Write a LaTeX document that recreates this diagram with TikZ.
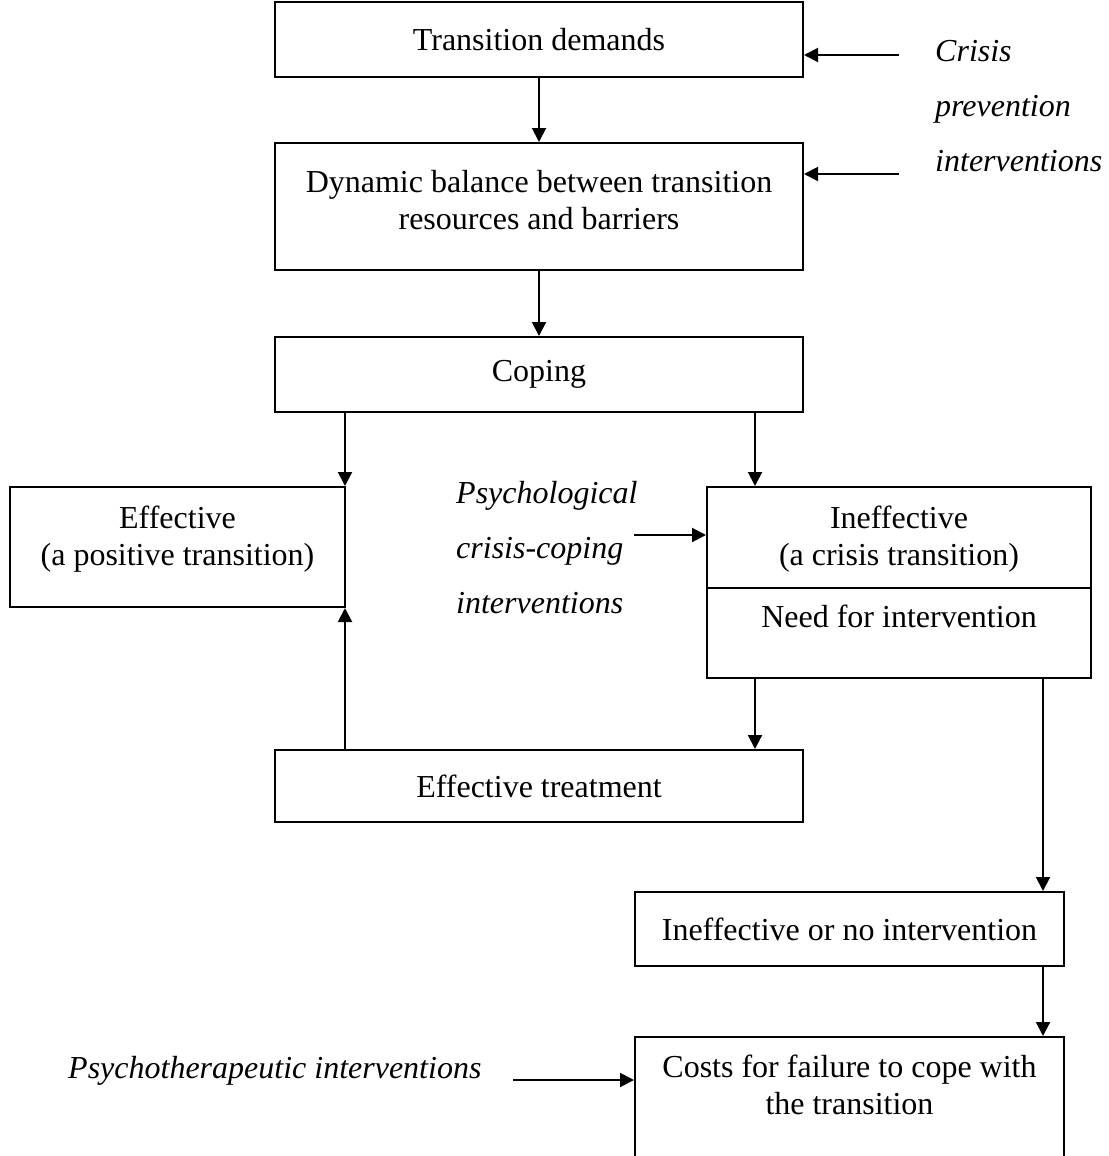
\documentclass[tikz,border=0pt]{standalone}
\usepackage{fontspec}
\setmainfont{Liberation Serif}
\usetikzlibrary{arrows.meta}
\tikzset{
  box/.style={draw, line width=2pt, inner sep=0pt, align=center, font=\fontsize{32}{37}\selectfont},
  txt/.style={inner sep=0pt, align=center, font=\fontsize{32}{37}\selectfont},
  itx/.style={inner sep=0pt, align=left, font=\fontsize{32}{55}\selectfont\itshape},
  arr/.style={line width=2pt, -{Triangle[length=14pt,width=14pt]}},
}
\begin{document}
\begin{tikzpicture}[x=1pt,y=-1pt]
\useasboundingbox (0,0) rectangle (1108,1156);
\clip (0,0) rectangle (1108,1156);
\fill[white] (0,0) rectangle (1108,1156);

% boxes
\node[box, minimum width=528pt, minimum height=75pt] (demands) at (539,39.5) {Transition demands};
\node[box, minimum width=528pt, minimum height=127pt] (balance) at (539,206.5) {};
\node[txt] (balancetxt) at (539,200) {Dynamic balance between transition\\resources and barriers};
\node[box, minimum width=528pt, minimum height=75pt] (coping) at (539,374.5) {Coping};
\node[box, minimum width=335pt, minimum height=120pt] (effective) at (177.5,547) {};
\node[txt] (effectivetxt) at (177.5,539) {Effective\\(a positive transition)};
\node[box, minimum width=384pt, minimum height=101pt] (ineff) at (899,537.5) {};
\node[txt] (inefftxt) at (899,539) {Ineffective\\(a crisis transition)};
\node[box, minimum width=384pt, minimum height=90pt] (need) at (899,633) {};
\node[txt] (needtxt) at (899,616) {Need for intervention};
\node[box, minimum width=528pt, minimum height=72pt] (treat) at (539,786) {Effective treatment};
\node[box, minimum width=429pt, minimum height=74pt] (noint) at (849.5,929) {Ineffective or no intervention};
\node[box, minimum width=429pt, minimum height=140pt] (costs) at (849.5,1107) {};
\node[txt] (coststxt) at (849.5,1085) {Costs for failure to cope with\\the transition};

% italic labels
\node[itx, anchor=north west] (crisis) at (935,40) {Crisis\\prevention\\interventions};
\node[itx, anchor=north west] (psych) at (456,481) {Psychological\\crisis-coping\\interventions};
\node[itx, anchor=base west] (psychother) at (68,1078) {Psychotherapeutic interventions};

% helper coordinates
\coordinate (xa) at (755,0);
\coordinate (xb) at (345,0);
\coordinate (xc) at (1043,0);
\coordinate (c1) at (899,55);
\coordinate (c2) at (899,174);
\coordinate (p1) at (634,535);
\coordinate (p2) at (513,1080);

% connectors
\draw[arr] (demands.south) -- (balance.north);
\draw[arr] (balance.south) -- (coping.north);
\draw[arr] (coping.south -| xb) -- (effective.north -| xb);
\draw[arr] (coping.south -| xa) -- (ineff.north -| xa);
\draw[arr] (need.south -| xa) -- (treat.north -| xa);
\draw[arr] (treat.north -| xb) -- (effective.south -| xb);
\draw[arr] (need.south -| xc) -- (noint.north -| xc);
\draw[arr] (noint.south -| xc) -- (costs.north -| xc);
\draw[arr] (c1) -- (c1 -| demands.east);
\draw[arr] (c2) -- (c2 -| balance.east);
\draw[arr] (p1) -- (p1 -| ineff.west);
\draw[arr] (p2) -- (p2 -| costs.west);
\end{tikzpicture}
\end{document}
